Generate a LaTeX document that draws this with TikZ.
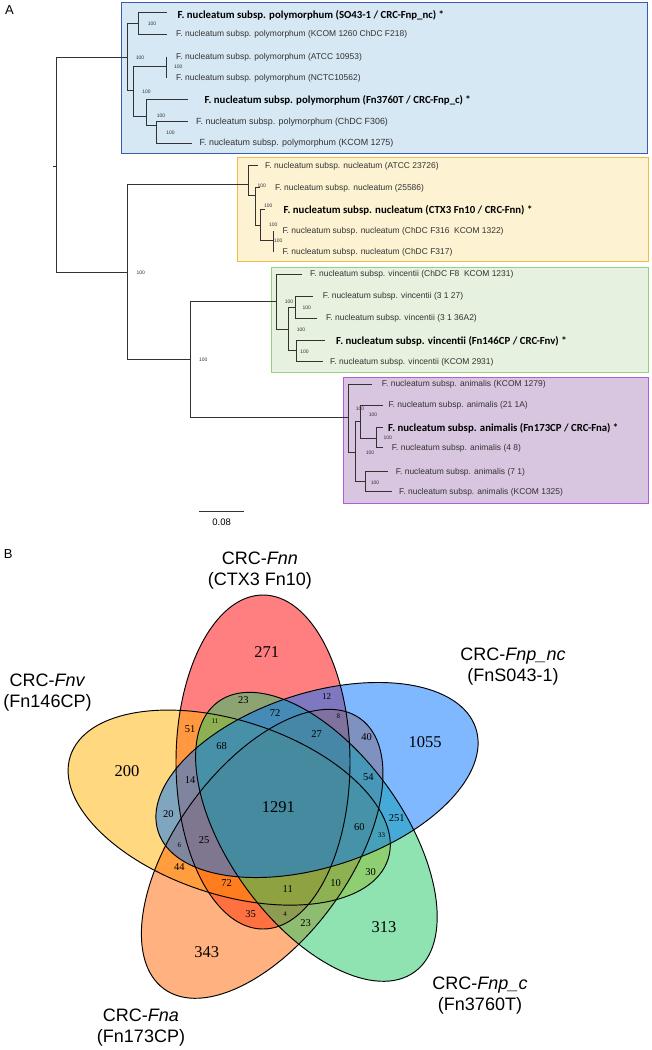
\documentclass[tikz,border=0pt]{standalone}
\usepackage{fontspec}
\setmainfont{Liberation Sans}
\newfontfamily\carl{Carlito}
\newfontfamily\timesf{Liberation Serif}
\definecolor{boxbluef}{RGB}{214,232,244}
\definecolor{boxblued}{RGB}{60,90,180}
\definecolor{boxyelf}{RGB}{253,243,210}
\definecolor{boxyeld}{RGB}{245,185,70}
\definecolor{boxgrnf}{RGB}{230,242,223}
\definecolor{boxgrnd}{RGB}{150,210,130}
\definecolor{boxpurf}{RGB}{216,198,224}
\definecolor{boxpurd}{RGB}{180,90,220}
\definecolor{vred}{RGB}{255,0,5}
\definecolor{vyellow}{RGB}{255,178,0}
\definecolor{vorange}{RGB}{255,100,0}
\definecolor{vgreen}{RGB}{30,200,100}
\definecolor{vblue}{RGB}{0,115,255}
\definecolor{treegray}{RGB}{50,50,50}
\tikzset{
  treeline/.style={draw=treegray, line width=0.8pt},
  leaf/.style={anchor=west, inner sep=0pt, text=treegray, font=\fontsize{8.45}{9}\selectfont},
  leafb/.style={anchor=west, inner sep=0pt, text=black, font=\carl\bfseries\fontsize{10.8}{12}\selectfont},
  bs/.style={inner sep=0pt, text=treegray, font=\fontsize{5}{5}\selectfont},
  panel/.style={inner sep=0pt, font=\fontsize{13}{13}\selectfont},
  setlab/.style={inner sep=0pt, align=center, font=\fontsize{18}{21}\selectfont},
  bign/.style={inner sep=0pt, font=\timesf\fontsize{16.5}{17}\selectfont},
  midn/.style={inner sep=0pt, font=\timesf\fontsize{10.5}{11}\selectfont},
  smn/.style={inner sep=0pt, font=\timesf\fontsize{7}{7}\selectfont},
  vline/.style={draw=black, line width=0.95pt},
}
\begin{document}
\begin{tikzpicture}[x=1pt,y=-1pt]
\useasboundingbox (0,0) rectangle (652,1050);
\fill[white] (0,0) rectangle (652,1050);

% ---------- Panel A ----------
\node[panel] (labA) at (9.5,10) {A};

% clade boxes
\draw[fill=boxbluef, draw=boxblued, line width=0.9pt] (121,2) rectangle (647,153);
\draw[fill=boxyelf, draw=boxyeld, line width=0.9pt] (237,157) rectangle (648,261);
\draw[fill=boxgrnf, draw=boxgrnd, line width=0.9pt] (271,267) rectangle (648,372);
\draw[fill=boxpurf, draw=boxpurd, line width=0.9pt] (343,377) rectangle (648,503);

% internal nodes
\coordinate (rootstub) at (53,166);
\coordinate (R) at (56,166);
\coordinate (P) at (127.7,57);
\coordinate (P1) at (138.3,23.3);
\coordinate (P2) at (133.3,90.7);
\coordinate (P2a) at (166.7,66.7);
\coordinate (P2b) at (146.7,116.7);
\coordinate (P2c) at (156.7,125);
\coordinate (N) at (127.7,272.7);
\coordinate (Nuc) at (248.3,184.5);
\coordinate (Nb) at (255,195);
\coordinate (Nc) at (260,225);
\coordinate (Nd) at (273.3,240);
\coordinate (V0) at (190,359.3);
\coordinate (V) at (276.7,301.7);
\coordinate (Va) at (288.3,329.3);
\coordinate (Vb) at (295,307.3);
\coordinate (Vc) at (296,350.7);
\coordinate (An) at (348.3,417.5);
\coordinate (A2) at (355.7,452.7);
\coordinate (A3) at (360,421.7);
\coordinate (A4) at (376.7,438.3);
\coordinate (A5) at (365,481.7);

% leaf tips
\coordinate (l1) at (166.7,12.7);
\coordinate (l2) at (166.7,34);
\coordinate (l3) at (166.7,56.7);
\coordinate (l4) at (166.7,78.3);
\coordinate (l5) at (188.3,99.3);
\coordinate (l6) at (188.3,121.7);
\coordinate (l7) at (191.7,143.3);
\coordinate (l8) at (258.3,165.5);
\coordinate (l9) at (260,187.3);
\coordinate (l10) at (265,209.3);
\coordinate (l11) at (273.3,230.7);
\coordinate (l12) at (273.3,252.3);
\coordinate (l13) at (301.7,274);
\coordinate (l14) at (313.3,296);
\coordinate (l15) at (316.7,318.3);
\coordinate (l16) at (325,340);
\coordinate (l17) at (323.3,361.7);
\coordinate (l18) at (371.7,384.3);
\coordinate (l19) at (383.3,405);
\coordinate (l20) at (383.3,427.7);
\coordinate (l21) at (383.3,447.7);
\coordinate (l22) at (388.3,471.7);
\coordinate (l23) at (391.7,491.7);

\draw[treeline] (rootstub) -- (R);
\foreach \p/\c in {R/P,P/P1,P1/l1,P1/l2,P/P2,P2/P2a,P2a/l3,P2a/l4,P2/P2b,P2b/l5,P2b/P2c,P2c/l6,P2c/l7,
  R/N,N/Nuc,Nuc/l8,Nuc/Nb,Nb/l9,Nb/Nc,Nc/l10,Nc/Nd,Nd/l11,Nd/l12,
  N/V0,V0/V,V/l13,V/Va,Va/Vb,Vb/l14,Vb/l15,Va/Vc,Vc/l16,Vc/l17,
  V0/An,An/l18,An/A2,A2/A3,A3/l19,A3/A4,A4/l20,A4/l21,A2/A5,A5/l22,A5/l23}
  \draw[treeline] (\p) |- (\c);

% leaf labels
\node[leafb] (t1) at (177.3,15) {F. nucleatum subsp. polymorphum (SO43-1 / CRC-Fnp\_nc) *};
\node[leaf] (t2) at (176,34.5) {F. nucleatum subsp. polymorphum (KCOM 1260 ChDC F218)};
\node[leaf] (t3) at (176,57) {F. nucleatum subsp. polymorphum (ATCC 10953)};
\node[leaf] (t4) at (176,78.5) {F. nucleatum subsp. polymorphum (NCTC10562)};
\node[leafb] (t5) at (204.3,100) {F. nucleatum subsp. polymorphum (Fn3760T / CRC-Fnp\_c) *};
\node[leaf, font=\fontsize{8.9}{9}\selectfont] (t6) at (196,122) {F. nucleatum subsp. polymorphum (ChDC F306)};
\node[leaf, font=\fontsize{8.9}{9}\selectfont] (t7) at (199.5,143.5) {F. nucleatum subsp. polymorphum (KCOM 1275)};
\node[leaf] (t8) at (265,166) {F. nucleatum subsp. nucleatum (ATCC 23726)};
\node[leaf] (t9) at (275,188) {F. nucleatum subsp. nucleatum (25586)};
\node[leafb] (t10) at (283.3,210) {F. nucleatum subsp. nucleatum (CTX3 Fn10 / CRC-Fnn) *};
\node[leaf] (t11) at (282.3,231) {F. nucleatum subsp. nucleatum (ChDC F316\ \ KCOM 1322)};
\node[leaf] (t12) at (282.3,252.5) {F. nucleatum subsp. nucleatum (ChDC F317)};
\node[leaf] (t13) at (310,274.5) {F. nucleatum subsp. vincentii (ChDC F8\ \ KCOM 1231)};
\node[leaf] (t14) at (322.7,296.5) {F. nucleatum subsp. vincentii (3 1 27)};
\node[leaf] (t15) at (326,318.5) {F. nucleatum subsp. vincentii (3 1 36A2)};
\node[leafb] (t16) at (336,341) {F. nucleatum subsp. vincentii (Fn146CP / CRC-Fnv) *};
\node[leaf] (t17) at (330,362) {F. nucleatum subsp. vincentii (KCOM 2931)};
\node[leaf] (t18) at (381.7,384.5) {F. nucleatum subsp. animalis (KCOM 1279)};
\node[leaf] (t19) at (388.3,405) {F. nucleatum subsp. animalis (21 1A)};
\node[leafb] (t20) at (388,428.5) {F. nucleatum subsp. animalis (Fn173CP / CRC-Fna) *};
\node[leaf] (t21) at (391.7,448) {F. nucleatum subsp. animalis (4 8)};
\node[leaf] (t22) at (395.7,472) {F. nucleatum subsp. animalis (7 1)};
\node[leaf] (t23) at (399,492) {F. nucleatum subsp. animalis (KCOM 1325)};

% bootstrap values
\foreach \bx/\by [count=\i] in {152/24,140/57.7,178.3/66.7,146.5/91.7,161/116,170.5/132.7,
  140.7/272.7,261.7/185.5,268.3/205.7,273.3/225,278.3/241,203.3/359.3,
  289/301.7,306.7/307.7,301/329.3,304.5/351.3,
  360/408.3,373/415,387.7/437.7,370/452.3,375/482.3}
  \node[bs] (bs\i) at (\bx,\by) {100};

% scale bar
\coordinate (sbL) at (199.3,511);
\coordinate (sbR) at (244,511);
\draw[treeline] (sbL) -- (sbR);
\node[inner sep=0pt, font=\fontsize{9.5}{10}\selectfont] (sbt) at (221.7,522) {0.08};

% ---------- Panel B ----------
\node[panel] (labB) at (8.3,554) {B};

\begin{scope}[fill opacity=0.5]
\fill[vred] (263,762) ellipse [x radius=87, y radius=167];
\fill[vyellow, rotate around={-18:(229.2,807.6)}] (229.2,807.6) ellipse [x radius=167, y radius=87];
\fill[vorange, rotate around={54:(262.2,853.8)}] (262.2,853.8) ellipse [x radius=167, y radius=87];
\fill[vgreen, rotate around={-54:(316.4,836.8)}] (316.4,836.8) ellipse [x radius=167, y radius=87];
\fill[vblue, rotate around={18:(317,780)}] (317,780) ellipse [x radius=167, y radius=87];
\end{scope}
\draw[vline] (263,762) ellipse [x radius=87, y radius=167];
\draw[vline, rotate around={-18:(229.2,807.6)}] (229.2,807.6) ellipse [x radius=167, y radius=87];
\draw[vline, rotate around={54:(262.2,853.8)}] (262.2,853.8) ellipse [x radius=167, y radius=87];
\draw[vline, rotate around={-54:(316.4,836.8)}] (316.4,836.8) ellipse [x radius=167, y radius=87];
\draw[vline, rotate around={18:(317,780)}] (317,780) ellipse [x radius=167, y radius=87];

% set labels
\node[setlab] (sFnn) at (260,571) {CRC-\textit{Fnn}\\(CTX3 Fn10)};
\node[setlab] (sFnpnc) at (513,667) {CRC-\textit{Fnp\_nc}\\(FnS043-1)};
\node[setlab] (sFnv) at (47.5,693) {CRC-\textit{Fnv}\\(Fn146CP)};
\node[setlab] (sFnpc) at (480,996) {CRC-\textit{Fnp\_c}\\(Fn3760T)};
\node[setlab] (sFna) at (141,1028) {CRC-\textit{Fna}\\(Fn173CP)};

% region counts
\node[bign] (v271) at (266.7,651.7) {271};
\node[bign] (v1055) at (425,741.7) {1055};
\node[bign] (v200) at (127,770.7) {200};
\node[bign] (v1291) at (278.3,806.7) {1291};
\node[bign] (v313) at (384,926.7) {313};
\node[bign] (v343) at (206.7,951.7) {343};
\node[midn] (v23a) at (243.3,700) {23};
\node[midn, font=\timesf\fontsize{9}{9}\selectfont] (v12) at (326.7,696.7) {12};
\node[midn] (v72a) at (275,712.7) {72};
\node[smn] (v8) at (338.3,715.7) {8};
\node[smn] (v11a) at (215,721) {11};
\node[midn] (v51) at (190,729.3) {51};
\node[midn] (v68) at (221.7,746) {68};
\node[midn] (v27) at (316.7,734) {27};
\node[midn] (v40) at (366.7,736.7) {40};
\node[midn] (v54) at (368.3,777.3) {54};
\node[midn] (v14) at (190,780) {14};
\node[midn] (v20) at (168.3,814.3) {20};
\node[midn] (v251) at (396.7,817.7) {251};
\node[midn] (v60) at (359.3,827.3) {60};
\node[midn] (v25) at (204,840) {25};
\node[smn] (v6) at (179.3,845) {6};
\node[smn] (v33) at (381.7,835.7) {33};
\node[midn] (v44) at (179.3,867.3) {44};
\node[midn] (v30) at (370.7,871.7) {30};
\node[midn] (v72b) at (226.7,883.3) {72};
\node[midn] (v11b) at (287.7,889.3) {11};
\node[midn] (v10) at (335.7,883.3) {10};
\node[midn] (v35) at (250.7,914) {35};
\node[smn] (v4) at (285,914.3) {4};
\node[midn] (v23b) at (305.7,922.7) {23};
\end{tikzpicture}
\end{document}
